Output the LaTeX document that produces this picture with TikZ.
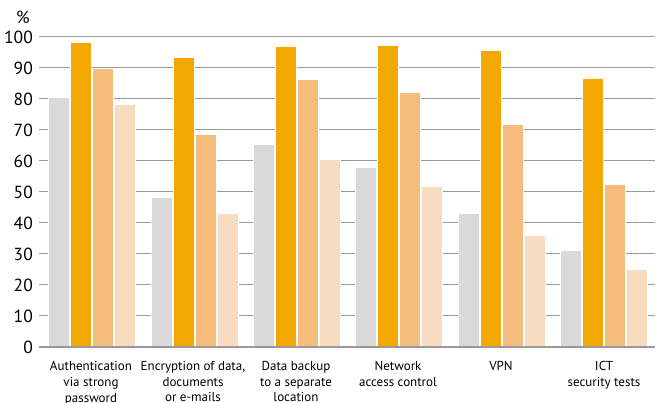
\documentclass[tikz,border=0pt]{standalone}
\usepackage{fontspec}
\setmainfont{PT Sans}

\definecolor{barGray}{HTML}{D9D9D9}
\definecolor{barOrange}{HTML}{F2A800}
\definecolor{barMid}{HTML}{F5BC7C}
\definecolor{barLight}{HTML}{F7DCC1}
\definecolor{gridGray}{HTML}{9A9A9A}

\tikzset{
  gridline/.style={draw=gridGray, line width=1pt},
  bar/.style={draw=white, line width=0.8pt},
  ticklabel/.style={anchor=east, inner sep=0pt, font=\fontsize{17.5}{17.5}\selectfont},
  catlabel/.style={anchor=north, align=center, inner sep=0pt,
    font=\fontsize{13}{15.8}\selectfont}
}

\begin{document}
\begin{tikzpicture}[x=1pt, y=1pt]
  \useasboundingbox (0,0) rectangle (659,403);

  % horizontal grid lines
  \foreach \v in {10,20,...,100}
    \draw[gridline] (39,{56+3.1*\v}) -- (655,{56+3.1*\v});
  % labels vertical
  \foreach \v in {0,10,...,100}
    \node[ticklabel] (tick\v) at (33,{56+3.1*\v}) {\v};
  % unit
  \node[ticklabel, anchor=center] (unit) at (23,386) {\%};

  % bars, one group per measure
  \foreach \i/\a/\b/\c/\d in {0/80.5/98.4/89.8/78.3,
                              1/48.2/93.5/68.5/43,
                              2/65.5/97/86.3/60.5,
                              3/57.8/97.4/82/51.9,
                              4/43/95.8/71.7/36,
                              5/31/86.5/52.4/25}
  {
    \pgfmathsetmacro{\xo}{48.5+102.4*\i}
    \fill[barGray, bar]   (\xo,56)    rectangle ({\xo+21},{56+3.1*\a});
    \fill[barOrange, bar] (\xo+22,56) rectangle ({\xo+43},{56+3.1*\b});
    \fill[barMid, bar]    (\xo+44,56) rectangle ({\xo+65},{56+3.1*\c});
    \fill[barLight, bar]  (\xo+66,56) rectangle ({\xo+87},{56+3.1*\d});
  }

  % base line
  \draw[draw=gridGray, line width=1.6pt] (39,56) -- (655,56);

  % category labels
  \node[catlabel] (cat0) at (91,42)    {Authentication\\via strong\\password};
  \node[catlabel] (cat1) at (193,42)   {Encryption of data,\\documents\\or e-mails};
  \node[catlabel] (cat2) at (296,42)   {Data backup\\to a separate\\location};
  \node[catlabel] (cat3) at (398,42)   {Network\\access control};
  \node[catlabel] (cat4) at (501,42)   {VPN};
  \node[catlabel] (cat5) at (604,42)   {ICT\\security tests};

\end{tikzpicture}
\end{document}
